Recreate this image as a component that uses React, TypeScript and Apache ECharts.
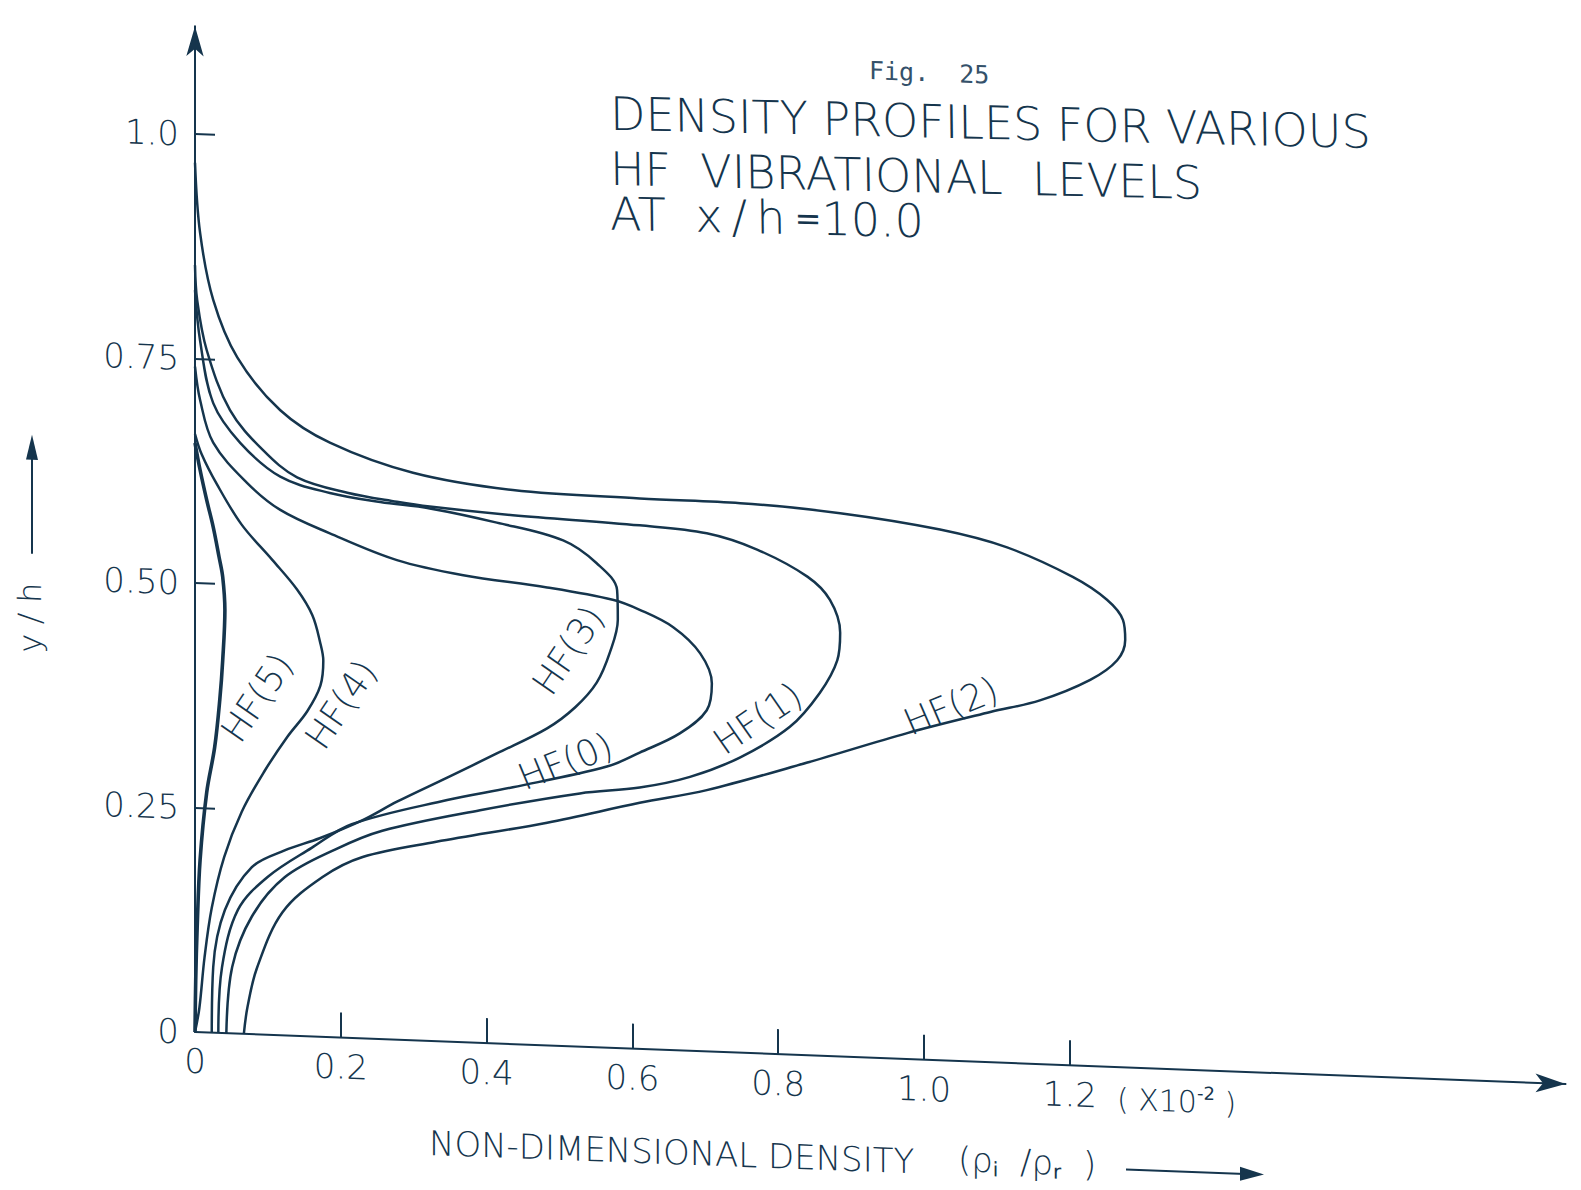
import { useEffect, useRef } from 'react';
import * as echarts from 'echarts';

// ---------- data ----------
const seriesNames = ['HF(0)', 'HF(1)', 'HF(2)', 'HF(3)', 'HF(4)', 'HF(5)'];

// each point: [non-dimensional density (x1e-2), y/h]
const hf0 = [
  [0.032, 0], [0.037, 0.073], [0.059, 0.138], [0.1, 0.176], [0.16, 0.21], [0.215, 0.238],
  [0.346, 0.269], [0.436, 0.286], [0.565, 0.313], [0.61, 0.33], [0.665, 0.353], [0.702, 0.38],
  [0.709, 0.41], [0.693, 0.443], [0.656, 0.471], [0.61, 0.489], [0.573, 0.499], [0.483, 0.51],
  [0.368, 0.52], [0.277, 0.534], [0.185, 0.561], [0.117, 0.585], [0.071, 0.614], [0.025, 0.657],
  [0.007, 0.704], [0, 0.741],
];
const hf1 = [
  [0.043, 0], [0.051, 0.074], [0.078, 0.131], [0.123, 0.176], [0.192, 0.209], [0.257, 0.232],
  [0.391, 0.259], [0.528, 0.282], [0.61, 0.291], [0.679, 0.305], [0.748, 0.329], [0.816, 0.365],
  [0.857, 0.404], [0.881, 0.441], [0.885, 0.472], [0.871, 0.508], [0.84, 0.533], [0.771, 0.561],
  [0.702, 0.577], [0.61, 0.583], [0.436, 0.589], [0.322, 0.595], [0.277, 0.599], [0.209, 0.607],
  [0.14, 0.622], [0.093, 0.651], [0.048, 0.694], [0.016, 0.76], [0.003, 0.815], [0, 0.854],
];
const hf2 = [
  [0.067, 0], [0.072, 0.03], [0.085, 0.074], [0.12, 0.137], [0.175, 0.178], [0.23, 0.202],
  [0.331, 0.222], [0.483, 0.248], [0.61, 0.274], [0.702, 0.291], [0.84, 0.326], [0.977, 0.363],
  [1.091, 0.39], [1.159, 0.405], [1.228, 0.43], [1.265, 0.453], [1.276, 0.476], [1.273, 0.498],
  [1.251, 0.52], [1.204, 0.544], [1.114, 0.574], [1.022, 0.591], [0.885, 0.605], [0.748, 0.612],
  [0.61, 0.613], [0.436, 0.617], [0.299, 0.632], [0.185, 0.662], [0.117, 0.696], [0.058, 0.753],
  [0.025, 0.816], [0.007, 0.89], [0, 0.968],
];
const hf3 = [
  [0.023, 0], [0.025, 0.073], [0.041, 0.137], [0.078, 0.186], [0.123, 0.206], [0.171, 0.221],
  [0.23, 0.243], [0.277, 0.265], [0.346, 0.294], [0.414, 0.323], [0.483, 0.353], [0.522, 0.378],
  [0.551, 0.406], [0.569, 0.44], [0.58, 0.477], [0.579, 0.51], [0.551, 0.539], [0.505, 0.563],
  [0.414, 0.58], [0.322, 0.593], [0.254, 0.598], [0.185, 0.606], [0.117, 0.622], [0.062, 0.658],
  [0.025, 0.701], [0.007, 0.77], [0, 0.826],
];
const hf4 = [
  [0, 0], [0.006, 0.027], [0.013, 0.083], [0.023, 0.139], [0.04, 0.196], [0.064, 0.247],
  [0.095, 0.293], [0.127, 0.333], [0.154, 0.362], [0.172, 0.391], [0.176, 0.419], [0.172, 0.438],
  [0.161, 0.469], [0.14, 0.497], [0.106, 0.529], [0.064, 0.567], [0.03, 0.611], [0.009, 0.644],
  [0, 0.666],
];
const hf5 = [
  [0, 0], [0.001, 0.058], [0.003, 0.117], [0.007, 0.192], [0.016, 0.267], [0.027, 0.318],
  [0.034, 0.371], [0.038, 0.415], [0.041, 0.471], [0.038, 0.508], [0.033, 0.53], [0.025, 0.563],
  [0.016, 0.593], [0.007, 0.626], [0, 0.656],
];
const seriesData = [hf0, hf1, hf2, hf3, hf4, hf5];

const xTickValues = [0, 0.2, 0.4, 0.6, 0.8, 1.0, 1.2];
const xTickLabels = ['0', '0.2', '0.4', '0.6', '0.8', '1.0', '1.2'];
const yTickValues = [0, 0.25, 0.5, 0.75, 1.0];
const yTickLabels = ['0', '0.25', '0.50', '0.75', '1.0'];

// ---------- layout / style ----------
const INK = '#15354d';
const FONT = '"DejaVu Sans", "Liberation Sans", sans-serif';
const MONO = '"DejaVu Sans Mono", "Liberation Mono", monospace';
const SKEW = 0.038; // the scanned sheet's x axis runs slightly downhill
const SKEW_DEG = (Math.atan(SKEW) * 180) / Math.PI;
const ORIGIN_X = 195;
const ORIGIN_Y = 1032;
const X_UNIT = 729;
const Y_UNIT = 898;
const X_MAX = 1.88;
const Y_MAX = 1.12;

// label anchors in data space, angle in degrees (counter-clockwise)
const curveLabelPos = [
  { x: 0.508, y: 0.317, a: 22.9 },
  { x: 0.772, y: 0.373, a: 35.5 },
  { x: 1.037, y: 0.395, a: 23.8 },
  { x: 0.512, y: 0.441, a: 56.7 },
  { x: 0.2, y: 0.371, a: 56.7 },
  { x: 0.085, y: 0.375, a: 56.7 },
];

const pick = (vals: number[], labels: string[], v: number) => {
  const i = vals.findIndex((t) => Math.abs(t - v) < 1e-6);
  return i >= 0 ? labels[i] : '';
};

export default function App() {
  const ref = useRef<HTMLDivElement>(null);

  useEffect(() => {
    document.body.style.margin = '0';
    const chart = echarts.init(ref.current!, null, { renderer: 'svg' });
    const option: any = {
      animation: false,
      grid: {
        left: ORIGIN_X,
        top: ORIGIN_Y - Y_MAX * Y_UNIT,
        width: X_MAX * X_UNIT,
        height: Y_MAX * Y_UNIT,
      },
      xAxis: {
        type: 'value',
        min: 0,
        max: X_MAX,
        interval: 0.2,
        axisLine: {
          show: true,
          onZero: false,
          symbol: ['none', 'arrow'],
          symbolSize: [14, 30],
          lineStyle: { color: INK, width: 2 },
        },
        axisTick: {
          show: true,
          inside: true,
          length: 25,
          customValues: xTickValues.slice(1),
          lineStyle: { color: INK, width: 2 },
        },
        axisLabel: {
          show: true,
          customValues: xTickValues,
          margin: 12,
          color: INK,
          fontSize: 34,
          fontFamily: FONT,
          fontWeight: 200,
          formatter: (v: number) => pick(xTickValues, xTickLabels, v),
        },
        splitLine: { show: false },
      },
      yAxis: {
        type: 'value',
        min: 0,
        max: Y_MAX,
        interval: 0.25,
        axisLine: {
          show: true,
          onZero: false,
          symbol: ['none', 'arrow'],
          symbolSize: [13, 30],
          lineStyle: { color: INK, width: 2 },
        },
        axisTick: {
          show: true,
          inside: true,
          length: 20,
          customValues: yTickValues.slice(1),
          lineStyle: { color: INK, width: 2 },
        },
        axisLabel: {
          show: true,
          customValues: yTickValues,
          margin: 16,
          color: INK,
          fontSize: 34,
          fontFamily: FONT,
          fontWeight: 200,
          formatter: (v: number) => pick(yTickValues, yTickLabels, v),
        },
        splitLine: { show: false },
      },
      series: seriesData.map((d, i) => ({
        name: seriesNames[i],
        type: 'line',
        data: d,
        smooth: 0.35,
        showSymbol: false,
        silent: true,
        lineStyle: { color: INK, width: i === 5 ? 3.6 : 2.5 },
      })),
    };
    chart.setOption(option);

    const txt = (x: number, y: number, text: string, size: number, extra: any = {}) => ({
      type: 'text',
      x,
      y,
      rotation: extra.rotation || 0,
      style: {
        text,
        fill: extra.fill || INK,
        fontSize: size,
        fontFamily: extra.fontFamily || FONT,
        fontWeight: 200,
        align: extra.align || 'left',
        verticalAlign: 'middle',
        lineHeight: extra.lineHeight,
        rich: extra.rich,
      },
    });

    const labels = curveLabelPos.map((p, i) => {
      const [px, py] = chart.convertToPixel({ gridIndex: 0 }, [p.x, p.y]) as number[];
      return txt(px, py, seriesNames[i], 36, { align: 'center', rotation: (p.a * Math.PI) / 180 });
    });

    const sub = { fontSize: 20, lineHeight: 16, verticalAlign: 'bottom', fill: INK, fontFamily: FONT };
    const titleRot = 0.0145;
    const graphics: any[] = [
      txt(869, 45, 'Fig.  25', 25, { fontFamily: MONO, fill: '#34516a' }),
      txt(610, 98, 'DENSITY PROFILES FOR VARIOUS', 46, { rotation: titleRot }),
      txt(610, 153, 'HF  VIBRATIONAL  LEVELS', 46, { rotation: titleRot }),
      txt(610, 198, 'AT  x\u2009/\u2009h\u2009{eq|=}10.0', 46, {
        rotation: titleRot,
        lineHeight: 50,
        rich: { eq: { fontSize: 32, lineHeight: 50, fill: INK, fontFamily: FONT } },
      }),
      txt(1117, 1064, '( X10{sup|-2} )', 30, {
        lineHeight: 36,
        rich: { sup: { fontSize: 18, lineHeight: 18, verticalAlign: 'top', fill: INK, fontFamily: FONT } },
      }),
      txt(429, 1134, 'NON-DIMENSIONAL DENSITY', 34),
      txt(958, 1130, '(ρ{sub|i}  /ρ{sub|r}  )', 34, { lineHeight: 38, rich: { sub } }),
      {
        type: 'line',
        shape: { x1: 1126, y1: 1134, x2: 1245, y2: 1134 },
        style: { stroke: INK, lineWidth: 2 },
      },
      {
        type: 'polygon',
        shape: { points: [[1264, 1134], [1240, 1127], [1240, 1141]] },
        style: { fill: INK },
      },
      txt(30, 624, 'y / h', 32, { align: 'center', rotation: Math.PI / 2 }),
      {
        type: 'line',
        shape: { x1: 32, y1: 560, x2: 32, y2: 460 },
        style: { stroke: INK, lineWidth: 2 },
      },
      {
        type: 'polygon',
        shape: { points: [[32, 441], [26, 466], [38, 466]] },
        style: { fill: INK },
      },
      ...labels,
    ];
    chart.setOption({ graphic: graphics });

    return () => chart.dispose();
  }, []);

  return (
    <div style={{ width: 1581, height: 1190, overflow: 'hidden', position: 'relative', background: '#fff' }}>
      <div
        ref={ref}
        style={{
          width: 1581,
          height: 1190,
          transform: `skewY(${SKEW_DEG}deg)`,
          transformOrigin: `${ORIGIN_X}px ${ORIGIN_Y}px`,
        }}
      />
    </div>
  );
}
